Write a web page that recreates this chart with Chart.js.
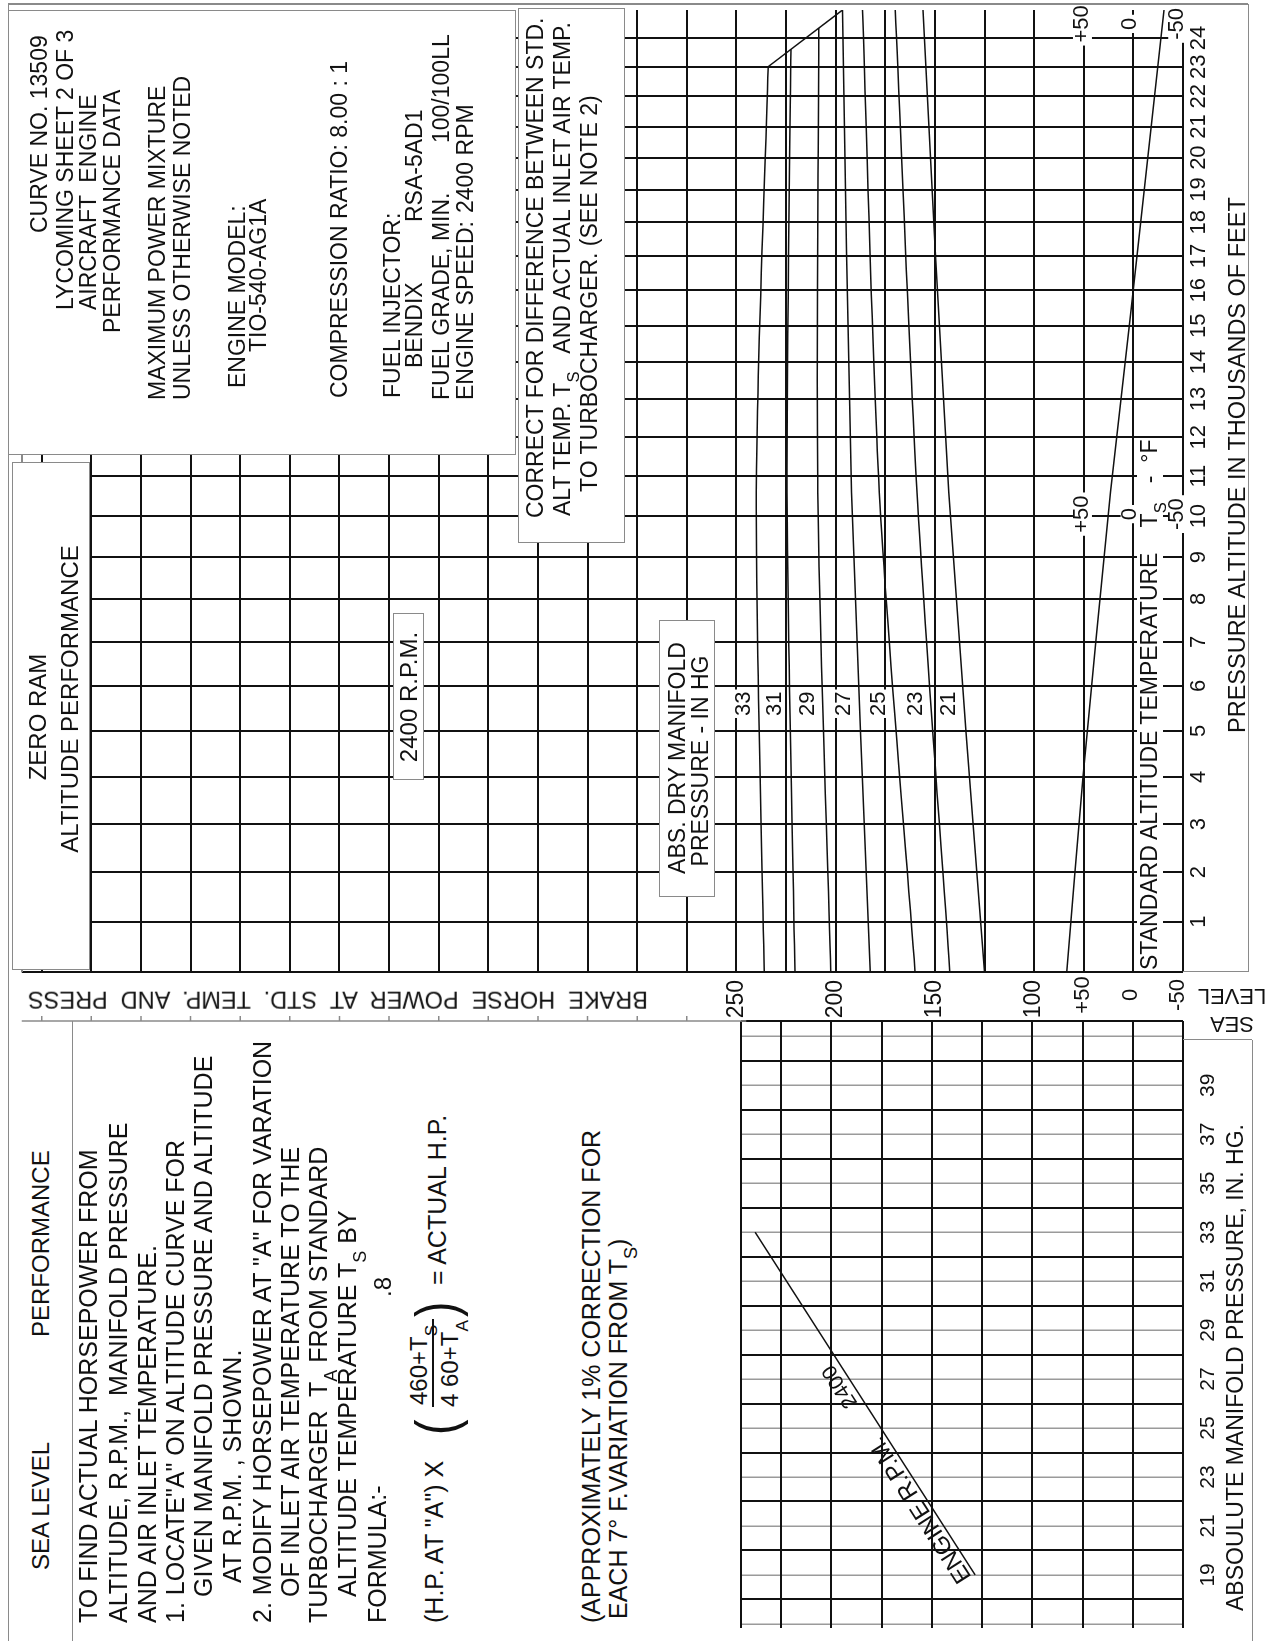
<!DOCTYPE html>
<html>
<head>
<meta charset="utf-8">
<title>TIO-540-AG1A zero ram altitude performance</title>
<script src="https://cdn.jsdelivr.net/npm/chart.js@4.4.1/dist/chart.umd.min.js"></script>
<style>
html, body { margin: 0; padding: 0; background: #fff; }
body { width: 1281px; height: 1641px; overflow: hidden; position: relative; }
/* the sheet is laid out landscape and turned a quarter turn, like the printed curve */
#sheet { position: absolute; left: 0; top: 0; width: 1641px; height: 1281px;
  transform-origin: 0 0; transform: translateY(1641px) rotate(-90deg);
  font-family: "Liberation Sans", Arial, sans-serif; color: #111; background: #fff; }
#sheet canvas { position: absolute; }
.t { position: absolute; white-space: pre; line-height: 1; }
.b { position: absolute; box-sizing: border-box; background: #fff; border: 1.5px solid #8a8a8a; }
.ln { position: absolute; background: #8a8a8a; }
sub { font-size: 0.72em; vertical-align: -0.55em; line-height: 0; }
</style>
</head>
<body>
<div id="sheet">
  <canvas id="slChart" width="660" height="581" style="left:0;top:700px;width:660px;height:581px"></canvas>
  <canvas id="altChart" width="1041" height="1281" style="left:600px;top:0;width:1041px;height:1281px"></canvas>
</div>
<script>
// ---- values ----
// altitude in thousands of feet, power in BHP, temperature in deg F, manifold pressure in in. Hg
const altitudeLabels = [1, 2, 3, 4, 5, 6, 7, 8, 9, 10, 11, 12, 13, 14, 15, 16, 17, 18, 19, 20, 21, 22, 23, 24];
const hpLabels = [100, 150, 200, 250];
const tempLabels = [50, 0, -50];
const mpAxisLabels = [19, 21, 23, 25, 27, 29, 31, 33, 35, 37, 39];

const mpCurveNames = ['33', '31', '29', '27', '25', '23', '21'];
const mpCurveAlt = [
  [0, 10.6, 23.0],
  [0, 10.6, 23.6],
  [0, 10.6, 24.35],
  [0, 10.6, 25],
  [0, 10.6, 25],
  [0, 10.6, 25],
  [0, 10.6, 25]
];
const mpCurveHp = [
  [236, 240, 234],
  [220.5, 224.5, 222.5],
  [202.5, 209, 208.5],
  [182.5, 192, 196.5],
  [160, 178, 186.5],
  [142.5, 159, 170],
  [125, 143, 156]
];

const limitAlt = [23.0, 25];
const limitHp = [234, 196.5];

const stdTempAlt = [0, 4, 10.6, 15.3, 25];
const stdTemp = [67, 50, 21, 0, -35];

const seaLevelMp = [19, 33];
const seaLevelHp = [128.5, 238];

// ---- drawing ----
const FONT = '"Liberation Sans", Arial, sans-serif';
const INK = '#111';
const FRAME = '#8a8a8a';
const NONE = 'rgba(0,0,0,0)';
Chart.defaults.font.family = FONT;
Chart.defaults.color = INK;

// standard temperature scale shares the power axis: 0 F sits on 51.4 BHP, 0.48 BHP per degree
const tsZeroHp = 51.4, hpPerDeg = 0.48;
const tempOfHp = hp => (hp - tsZeroHp) / hpPerDeg;

// pressure altitude axis is spaced by standard-atmosphere density ratio
const sigma = h => Math.pow(1 - 6.8756e-3 * h, 4.2559);
class DensityAltitudeScale extends Chart.LinearScale {
  getPixelForValue(value) {
    const s0 = sigma(this.min), s1 = sigma(this.max);
    return this.getPixelForDecimal((s0 - sigma(value)) / (s0 - s1));
  }
  getValueForPixel(pixel) {
    const s0 = sigma(this.min), s1 = sigma(this.max);
    const s = s0 - this.getDecimalForPixel(pixel) * (s0 - s1);
    return (1 - Math.pow(s, 1 / 4.2559)) / 6.8756e-3;
  }
}
DensityAltitudeScale.id = 'densityAltitude';
DensityAltitudeScale.defaults = Chart.LinearScale.defaults;
Chart.register(DensityAltitudeScale);

const steps = (from, to, by) => { const a = []; for (let v = from; v <= to + 1e-9; v += by) a.push(v); return a; };

const curveSets = mpCurveNames.map((name, i) => ({
  label: name + ' in. Hg',
  data: mpCurveAlt[i].map((a, k) => ({ x: a, y: mpCurveHp[i][k] })),
  borderColor: INK, borderWidth: 1.5, pointRadius: 0, tension: 0.3
}));

const altDecor = {
  id: 'altDecor',
  afterDraw(chart) {
    const { ctx, scales: { x, y, yT } } = chart;
    ctx.save();
    ctx.textBaseline = 'middle';
    ctx.textAlign = 'center';

    // manifold pressure tags just above each curve
    ctx.font = '22px ' + FONT;
    const tagX = x.getPixelForValue(5.6);
    mpCurveNames.forEach((name, i) => {
      const px = mpCurveAlt[i].map(a => x.getPixelForValue(a));
      const py = mpCurveHp[i].map(h => y.getPixelForValue(h));
      let k = 0;
      while (k < px.length - 2 && px[k + 1] < tagX) k++;
      const f = (tagX - px[k]) / (px[k + 1] - px[k]);
      const cy = py[k] + f * (py[k + 1] - py[k]) - 17;
      const w = ctx.measureText(name).width;
      ctx.fillStyle = '#fff';
      ctx.fillRect(tagX - w / 2 - 2, cy - 9, w + 4, 18);
      ctx.fillStyle = INK;
      ctx.fillText(name, tagX, cy + 1);
    });

    // standard altitude temperature figures, in the margin and repeated on the grid
    tempLabels.forEach(t => {
      const ty = yT.getPixelForValue(t);
      const txt = t > 0 ? '+' + t : String(t);
      const w = ctx.measureText(txt).width;
      ctx.fillStyle = INK;
      ctx.fillText(txt, x.left - 23, ty);
      [10.05, 24.5].forEach(a => {
        const tx = x.getPixelForValue(a);
        ctx.fillStyle = '#fff';
        ctx.fillRect(tx - w / 2 - 3, ty - 10, w + 6, 19);
        ctx.fillStyle = INK;
        ctx.fillText(txt, tx, ty - 1);
      });
    });

    // edge of the sea level panel, ticked at the power grid
    const ex = x.left - 49;
    ctx.strokeStyle = FRAME;
    ctx.lineWidth = 1.5;
    ctx.beginPath();
    ctx.moveTo(ex, y.getPixelForValue(y.max));
    ctx.lineTo(ex, y.getPixelForValue(245));
    steps(275, 600, 25).forEach(v => {
      const ty = y.getPixelForValue(v);
      ctx.moveTo(ex, ty);
      ctx.lineTo(ex + 5, ty);
    });
    ctx.stroke();
    ctx.restore();
  }
};

new Chart(document.getElementById('altChart'), {
  type: 'line',
  data: {
    datasets: [
      ...curveSets,
      { label: 'limit', data: limitAlt.map((a, k) => ({ x: a, y: limitHp[k] })),
        borderColor: INK, borderWidth: 1.5, pointRadius: 0, tension: 0 },
      { label: 'Ts', yAxisID: 'yT', data: stdTempAlt.map((a, k) => ({ x: a, y: stdTemp[k] })),
        borderColor: INK, borderWidth: 1.5, pointRadius: 0, tension: 0.2 }
    ]
  },
  options: {
    responsive: false, animation: false, devicePixelRatio: 1,
    layout: { padding: { left: 0, right: 10, top: 8, bottom: 0 } },
    plugins: { legend: { display: false }, tooltip: { enabled: false } },
    scales: {
      x: {
        type: 'densityAltitude', min: 0, max: 25,
        afterBuildTicks: s => { s.ticks = steps(0, 25, 1).map(v => ({ value: v })); },
        afterFit: s => { s.height = 98; },
        border: { display: false },
        grid: { drawTicks: false, lineWidth: 2, color: c => c.tick && c.tick.value === 25 ? NONE : INK },
        ticks: { autoSkip: false, maxRotation: 0, padding: 3, font: { size: 22 },
          callback: v => altitudeLabels.includes(v) ? String(v) : '' }
      },
      y: {
        type: 'linear', min: 25, max: 610,
        afterBuildTicks: s => { s.ticks = steps(25, 600, 25).concat([610]).map(v => ({ value: v })); },
        afterFit: s => { s.width = 69; },
        border: { display: false },
        grid: { drawTicks: false, lineWidth: 2, color: c => c.tick && c.tick.value === 610 ? FRAME : INK },
        ticks: { autoSkip: false, padding: 8, font: { size: 23 },
          callback: v => hpLabels.includes(v) ? String(v) : '' }
      },
      yT: { type: 'linear', position: 'right', display: false, min: tempOfHp(25), max: tempOfHp(610) }
    }
  },
  plugins: [altDecor]
});

const slDecor = {
  id: 'slDecor',
  afterDatasetsDraw(chart) {
    const { ctx, scales: { x, y } } = chart;
    const x0 = x.getPixelForValue(seaLevelMp[0]), y0 = y.getPixelForValue(seaLevelHp[0]);
    const x1 = x.getPixelForValue(seaLevelMp[1]), y1 = y.getPixelForValue(seaLevelHp[1]);
    ctx.save();
    ctx.translate(x0, y0);
    ctx.rotate(Math.atan2(y1 - y0, x1 - x0));
    ctx.fillStyle = INK;
    ctx.textBaseline = 'alphabetic';
    ctx.font = '24px ' + FONT;
    ctx.fillText('ENGINE R.P.M.', 0, -4);
    ctx.font = '21px ' + FONT;
    ctx.fillText('2400', 208, -6);
    ctx.restore();
  }
};

new Chart(document.getElementById('slChart'), {
  type: 'line',
  data: {
    datasets: [{ label: '2400 RPM', data: seaLevelMp.map((m, k) => ({ x: m, y: seaLevelHp[k] })),
      borderColor: INK, borderWidth: 1.5, pointRadius: 0 }]
  },
  options: {
    responsive: false, animation: false, devicePixelRatio: 1,
    layout: { padding: { left: 0, right: 40, top: 41, bottom: 0 } },
    plugins: { legend: { display: false }, tooltip: { enabled: false } },
    scales: {
      x: {
        type: 'linear', min: 16.83, max: 41.63,
        afterBuildTicks: s => { s.ticks = [16.83].concat(steps(17, 41, 1), [41.63]).map(v => ({ value: v })); },
        afterFit: s => { s.height = 98; },
        border: { display: false },
        grid: {
          drawTicks: false,
          color: c => {
            const v = c.tick ? c.tick.value : 0;
            if (v === 16.83) return NONE;
            if (v === 41.63) return INK;
            return v % 2 === 0 ? INK : '#9a9a9a';
          },
          lineWidth: c => (c.tick && c.tick.value % 2 === 0) || (c.tick && c.tick.value === 41.63) ? 2 : 1.5
        },
        ticks: { autoSkip: false, maxRotation: 0, padding: 13, font: { size: 21 },
          callback: v => mpAxisLabels.includes(v) ? String(v) : '' }
      },
      y: {
        type: 'linear', min: 25, max: 245,
        afterBuildTicks: s => { s.ticks = steps(25, 225, 25).concat([245]).map(v => ({ value: v })); },
        afterFit: s => { s.width = 0; },
        border: { display: false },
        grid: { drawTicks: false, lineWidth: 2, color: INK },
        ticks: { display: false }
      }
    }
  },
  plugins: [slDecor]
});

// ---- boxes and notes on the sheet ----
const sheet = document.getElementById('sheet');
const pxs = v => v + 'px';
function el(cls, css, html) {
  const d = document.createElement('div');
  d.className = cls;
  Object.assign(d.style, css);
  if (html !== undefined) d.innerHTML = html;
  sheet.appendChild(d);
  return d;
}
function rect(l, t, r, b, css) {
  return el('b', Object.assign({ left: pxs(l), top: pxs(t), width: pxs(r - l), height: pxs(b - t) }, css || {}));
}
function line(l, t, r, b) {
  return el('ln', { left: pxs(l), top: pxs(t), width: pxs(Math.max(r - l, 1.5)), height: pxs(Math.max(b - t, 1.5)) });
}
function text(html, left, cy, size, css) {
  return el('t', Object.assign({ left: pxs(left), top: pxs(cy - size / 2), fontSize: pxs(size) }, css || {}), html);
}
function ctext(html, cx, cy, size, css) {
  return text(html, cx, cy, size, Object.assign({ transform: 'translateX(-50%)', textAlign: 'center' }, css || {}));
}
function vtext(html, cx, cy, size, css) {
  return el('t', Object.assign({ left: pxs(cx), top: pxs(cy), fontSize: pxs(size), textAlign: 'center',
    transform: 'translate(-50%, -50%) rotate(-90deg)', transformOrigin: '50% 50%' }, css || {}), html);
}

// frame
line(0, 7.5, 1637, 9);
line(1636, 8, 1637.5, 1248);
line(669, 1247.5, 1637, 1249);
line(668.5, 1183, 670, 1248);
line(0, 1251.5, 601, 1253);
line(600.5, 1183, 602, 1252);
line(0, 71.5, 620, 73);

// title and engine data
rect(1186, 8, 1631, 516);
[
  ['CURVE NO. 13509', 1408, 39],
  ['LYCOMING SHEET 2 OF 3', 1331, 65],
  ['AIRCRAFT  ENGINE', 1331, 88],
  ['PERFORMANCE DATA', 1308, 112],
  ['MAXIMUM POWER MIXTURE', 1241, 157],
  ['UNLESS OTHERWISE NOTED', 1241, 182],
  ['ENGINE MODEL:', 1253, 237],
  ['TIO-540-AG1A', 1289, 258],
  ['COMPRESSION RATIO: 8.00 : 1', 1243, 339],
  ['FUEL INJECTOR:', 1243, 392],
  ['BENDIX', 1273, 414],
  ['RSA-5AD1', 1419, 414],
  ['FUEL GRADE, MIN.', 1241, 441],
  ['100/100LL', 1498, 441],
  ['ENGINE SPEED:', 1241, 465],
  ['2400 RPM', 1428, 465]
].forEach(([s, l, c]) => text(s, l, c, 23));

rect(1098, 518, 1633, 625);
text('CORRECT FOR DIFFERENCE BETWEEN STD.', 1123, 535, 23);
text('ALT TEMP. T<sub>S</sub>   AND ACTUAL INLET AIR TEMP.', 1125, 562, 23);
text('TO TURBOCHARGER. (SEE NOTE 2)', 1149, 589, 23);

rect(671, 12, 1179, 90);
ctext('ZERO RAM', 924, 38, 24);
ctext('ALTITUDE PERFORMANCE', 942, 70, 24);

rect(861, 393, 1028, 424);
ctext('2400 R.P.M.', 944, 409, 24);

rect(744, 659, 1021, 715);
ctext('ABS. DRY MANIFOLD', 883, 677, 23);
ctext('PRESSURE - IN HG', 880, 700, 23);

// axis titles
rect(671, 1137, 1201, 1163, { border: 'none' });
text('STANDARD ALTITUDE TEMPERATURE    T<sub>S</sub>   -  °F', 671, 1149, 23);
text('PRESSURE ALTITUDE IN THOUSANDS OF FEET', 908, 1238, 23.5);
vtext('SEA<br>LEVEL', 631, 1232, 22, { lineHeight: '28px' });
vtext('BRAKE  HORSE  POWER  AT  STD.  TEMP.  AND  PRESS', 642, 338, 23.5);
text('ABSOULUTE MANIFOLD PRESSURE, IN. HG.', 30, 1235, 23);

// sea level notes
text('SEA LEVEL', 71, 41, 24);
text('PERFORMANCE', 304, 41, 24);
[
  ['TO FIND ACTUAL HORSEPOWER FROM', 18, 88],
  ['ALTITUDE, R.P.M.,  MANIFOLD PRESSURE', 18, 118],
  ['AND AIR INLET TEMPERATURE.', 18, 147],
  ['1. LOCATE"A" ON ALTITUDE CURVE FOR', 18, 175],
  ['GIVEN MANIFOLD PRESSURE AND ALTITUDE', 44, 203],
  ['AT R.P.M. , SHOWN.', 58, 232],
  ['2. MODIFY HORSEPOWER AT "A" FOR VARATION', 18, 262],
  ['OF INLET AIR TEMPERATURE TO THE', 44, 290],
  ['TURBOCHARGER  T<sub>A</sub> FROM STANDARD', 18, 318],
  ['ALTITUDE TEMPERATURE T<sub>S</sub> BY', 44, 347],
  ['FORMULA:-', 18, 377]
].forEach(([s, l, c]) => text(s, l, c, 25));

text('(H.P. AT "A") X', 18, 434, 25);
text('(', 204, 436, 58, { transform: 'scaleX(0.8)' });
text('460+T<sub>S</sub>', 236, 419, 24);
line(234, 432, 322, 434).style.background = INK;
text('4 60+T<sub>A</sub>', 234, 450, 24);
text(')', 322, 436, 58, { transform: 'scaleX(0.8)' });
text('.8', 344, 383, 24);
text('= ACTUAL H.P.', 356, 437, 25);
text('(APPROXIMATELY 1% CORRECTION FOR', 18, 591, 25);
text('EACH 7° F.VARIATION FROM T<sub>S</sub>)', 22, 618, 25);
</script>
</body>
</html>
